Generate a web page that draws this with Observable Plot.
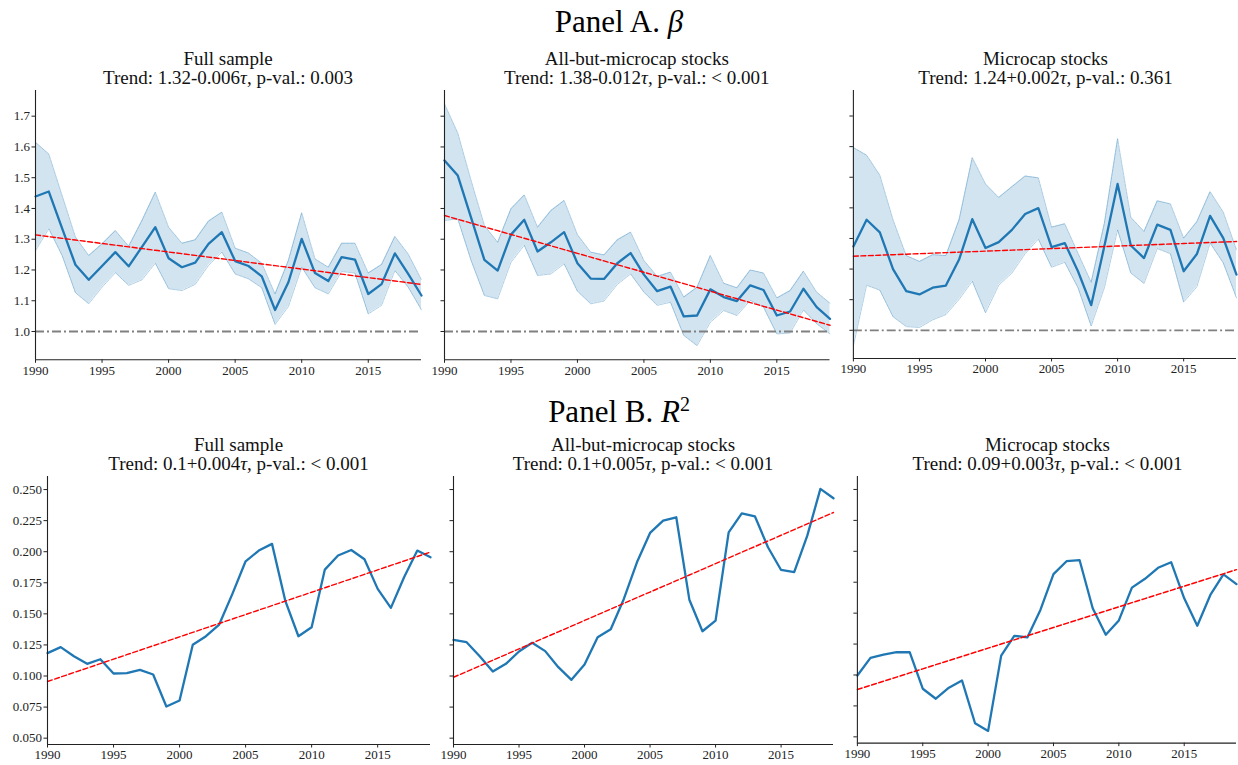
<!DOCTYPE html>
<html><head><meta charset="utf-8">
<script src="https://cdn.jsdelivr.net/npm/d3@7"></script>
<script src="https://cdn.jsdelivr.net/npm/@observablehq/plot@0.6"></script>
<style>
html,body{margin:0;padding:0;background:#fff;overflow:hidden;}
#root{position:relative;width:1238px;height:765px;font-family:"Liberation Serif",serif;color:#000;}
.ptitle{position:absolute;left:0;width:1238px;text-align:center;font-size:31px;line-height:36px;}
.sub{position:absolute;text-align:center;font-size:19px;line-height:19px;white-space:nowrap;transform:translateX(-50%);color:#111;}
.cell{position:absolute;}
.cell svg{overflow:visible;background:transparent;}
</style></head>
<body><div id="root"></div>
<script>
// ---------- DATA ----------
const years = [1990,1991,1992,1993,1994,1995,1996,1997,1998,1999,2000,2001,2002,2003,2004,2005,2006,2007,2008,2009,2010,2011,2012,2013,2014,2015,2016,2017,2018,2019];
const xTicks = [1990,1995,2000,2005,2010,2015];
const betaTicks = [1.0,1.1,1.2,1.3,1.4,1.5,1.6,1.7];
const r2Ticks = [0.050,0.075,0.100,0.125,0.150,0.175,0.200,0.225,0.250];
const sampleNames = ["Full sample","All-but-microcap stocks","Microcap stocks"];

// Panel A: beta (mean, lower, upper)
const betaFullMean = [1.439,1.455,1.335,1.217,1.168,1.213,1.258,1.212,1.275,1.339,1.238,1.209,1.224,1.285,1.323,1.229,1.213,1.179,1.070,1.160,1.301,1.190,1.164,1.242,1.234,1.122,1.154,1.254,1.187,1.117];
const betaFullLo   = [1.263,1.334,1.247,1.126,1.090,1.144,1.191,1.150,1.168,1.222,1.139,1.133,1.153,1.215,1.258,1.187,1.171,1.142,1.023,1.081,1.209,1.142,1.122,1.195,1.190,1.057,1.085,1.198,1.144,1.070];
const betaFullHi   = [1.615,1.577,1.442,1.307,1.247,1.285,1.328,1.277,1.361,1.453,1.339,1.287,1.298,1.359,1.388,1.271,1.255,1.222,1.122,1.231,1.386,1.236,1.209,1.287,1.287,1.190,1.218,1.309,1.252,1.168];

const betaBigMean = [1.556,1.507,1.370,1.233,1.198,1.315,1.363,1.260,1.290,1.323,1.222,1.172,1.171,1.222,1.255,1.185,1.131,1.146,1.049,1.052,1.137,1.112,1.099,1.150,1.135,1.052,1.065,1.139,1.079,1.041];
const betaBigLo   = [1.361,1.366,1.231,1.117,1.106,1.225,1.280,1.182,1.187,1.220,1.131,1.090,1.099,1.153,1.187,1.128,1.085,1.095,0.987,0.954,1.030,1.068,1.052,1.101,1.079,0.992,0.995,1.070,1.025,0.992];
const betaBigHi   = [1.740,1.645,1.491,1.345,1.290,1.399,1.444,1.339,1.393,1.426,1.315,1.258,1.249,1.298,1.323,1.231,1.179,1.193,1.112,1.144,1.247,1.157,1.142,1.200,1.190,1.109,1.133,1.196,1.128,1.092];

const betaMicroMean = [1.274,1.361,1.320,1.200,1.128,1.117,1.139,1.146,1.231,1.363,1.269,1.288,1.328,1.380,1.399,1.272,1.285,1.193,1.082,1.275,1.478,1.277,1.236,1.345,1.328,1.193,1.249,1.374,1.301,1.182];
const betaMicroLo   = [0.949,1.147,1.131,1.044,1.012,1.009,1.034,1.051,1.101,1.160,1.057,1.147,1.187,1.250,1.298,1.206,1.222,1.139,1.014,1.139,1.328,1.187,1.153,1.267,1.250,1.092,1.142,1.285,1.220,1.106];
const betaMicroHi   = [1.597,1.572,1.507,1.361,1.244,1.225,1.247,1.244,1.361,1.564,1.478,1.434,1.469,1.504,1.498,1.337,1.348,1.252,1.157,1.350,1.626,1.369,1.323,1.423,1.413,1.301,1.355,1.453,1.386,1.263];

// Panel B: R^2
const r2Full  = [0.1184,0.1232,0.1159,0.1098,0.1135,0.1020,0.1023,0.1050,0.1012,0.0755,0.0803,0.1251,0.1320,0.1414,0.1661,0.1923,0.2009,0.2063,0.1607,0.1320,0.1392,0.1856,0.1969,0.2014,0.1939,0.1701,0.1548,0.1794,0.2009,0.1955];
const r2Big   = [0.1291,0.1272,0.1159,0.1036,0.1098,0.1197,0.1267,0.1200,0.1071,0.0969,0.1092,0.1312,0.1376,0.1620,0.1915,0.2151,0.2250,0.2277,0.1614,0.1360,0.1446,0.2156,0.2309,0.2285,0.2036,0.1853,0.1835,0.2129,0.2505,0.2430];
const r2Micro = [0.0996,0.1138,0.1165,0.1184,0.1184,0.0889,0.0808,0.0897,0.0956,0.0610,0.0548,0.1157,0.1317,0.1304,0.1526,0.1816,0.1920,0.1928,0.1540,0.1325,0.1441,0.1706,0.1778,0.1867,0.1912,0.1620,0.1398,0.1647,0.1813,0.1735];

// Fitted trends (intercept at 1990, slope per year) and trend texts
const betaTrendA = [1.314, 1.377, 1.242];
const betaTrendB = [-0.00555, -0.0123, 0.00166];
const r2TrendA = [0.0956, 0.0990, 0.0883];
const r2TrendB = [0.00359, 0.00457, 0.00334];
const betaTrendText = [["1.32-0.006","0.003"],["1.38-0.012","< 0.001"],["1.24+0.002","0.361"]];
const r2TrendText = [["0.1+0.004","< 0.001"],["0.1+0.005","< 0.001"],["0.09+0.003","< 0.001"]];

// ---------- LAYOUT ----------
const root = document.getElementById("root");
const BLUE = "#1f77b4";

function addTitle(html, top){
  const d = document.createElement("div"); d.className="ptitle"; d.style.top = top+"px"; d.innerHTML = html; root.appendChild(d);
}
function addSub(name, trend, cx, top){
  const d = document.createElement("div"); d.className="sub"; d.style.left = cx+"px"; d.style.top = top+"px";
  d.innerHTML = name + "<br>Trend: " + trend[0] + "<i>τ</i>, p-val.: " + trend[1];
  root.appendChild(d);
}

function makePlot(o){
  const rows = years.map((y,i)=>({year:y, mean:o.mean[i], lo:o.lo?o.lo[i]:null, hi:o.hi?o.hi[i]:null}));
  const ml = o.ml, mr = 2, mt = 5, mb = 24;
  const W = ml + o.pw + mr, H = mt + o.ph + mb;
  const marks = [];
  if (o.lo){
    marks.push(Plot.areaY(rows,{x:"year", y1:"lo", y2:"hi", fill:BLUE, fillOpacity:0.2, curve:"linear"}));
    marks.push(Plot.lineY(rows,{x:"year", y:"lo", stroke:BLUE, strokeOpacity:0.45, strokeWidth:0.8, strokeDasharray:"3,1"}));
    marks.push(Plot.lineY(rows,{x:"year", y:"hi", stroke:BLUE, strokeOpacity:0.45, strokeWidth:0.8, strokeDasharray:"3,1"}));
  }
  if (o.ref !== undefined){
    marks.push(Plot.ruleY([o.ref],{stroke:"#808080", strokeWidth:1.8, strokeDasharray:"9,3,2,3"}));
  }
  marks.push(Plot.lineY(rows,{x:"year", y:"mean", stroke:BLUE, strokeWidth:2.3}));
  marks.push(Plot.lineY(rows,{x:"year", y:d=>o.ta + o.tb*(d.year-1990), stroke:"#ff0000", strokeWidth:1.4, strokeDasharray:"5,2.5"}));
  marks.push(Plot.axisX({ticks:xTicks, tickFormat:d=>String(d), tickSize:3.5, tickPadding:2, fontSize:13, stroke:"#222"}));
  marks.push(Plot.axisY({ticks:o.yTicks, tickFormat:o.showY ? o.fmt : ()=>"", tickSize:3.5, tickPadding:2, fontSize:13, stroke:"#222"}));
  marks.push(Plot.ruleX([1990],{stroke:"#222", strokeWidth:1.1}));
  marks.push(Plot.ruleY([o.yDomain[0]],{stroke:"#222", strokeWidth:1.1}));
  const svg = Plot.plot({
    width:W, height:H, marginLeft:ml, marginRight:mr, marginTop:mt, marginBottom:mb,
    x:{domain:[1990,2019], label:null},
    y:{domain:o.yDomain, label:null},
    style:{fontFamily:"'Liberation Serif', serif", fontSize:"13px", color:"#222", background:"transparent", overflow:"visible"},
    marks
  });
  const cell = document.createElement("div"); cell.className="cell";
  cell.style.left = (o.spineX - ml)+"px"; cell.style.top = (o.top - mt)+"px";
  cell.appendChild(svg); root.appendChild(cell);
}

addTitle('Panel A. <i>β</i>', 4);
addTitle('Panel B. <i>R</i><sup style="font-size:20px;line-height:0">2</sup>', 394);

const rowA = [{x0:35,x1:421},{x0:444,x1:829.5},{x0:853,x1:1238}];
const rowB = [{x0:47,x1:430},{x0:453,x1:833},{x0:857,x1:1238}];
const betaMeans=[betaFullMean,betaBigMean,betaMicroMean], betaLos=[betaFullLo,betaBigLo,betaMicroLo], betaHis=[betaFullHi,betaBigHi,betaMicroHi];
const r2s=[r2Full,r2Big,r2Micro];

rowA.forEach((p,i)=>{
  addSub(sampleNames[i], betaTrendText[i], (p.x0+p.x1)/2, 49);
  makePlot({mean:betaMeans[i], lo:betaLos[i], hi:betaHis[i], ref:1.0, ta:betaTrendA[i], tb:betaTrendB[i],
    yDomain:[0.908,1.7835], yTicks:betaTicks, fmt:d=>d.toFixed(1), showY:i===0,
    ml: i===0?35:22, pw:p.x1-p.x0, ph:269.3, spineX:p.x0, top:90});
});
rowB.forEach((p,i)=>{
  addSub(sampleNames[i], r2TrendText[i], (p.x0+p.x1)/2, 435);
  makePlot({mean:r2s[i], ta:r2TrendA[i], tb:r2TrendB[i],
    yDomain:[0.0449,0.2605], yTicks:r2Ticks, fmt:d=>d.toFixed(3), showY:i===0,
    ml: i===0?47:22, pw:p.x1-p.x0, ph:268, spineX:p.x0, top:476});
});
</script></body></html>
